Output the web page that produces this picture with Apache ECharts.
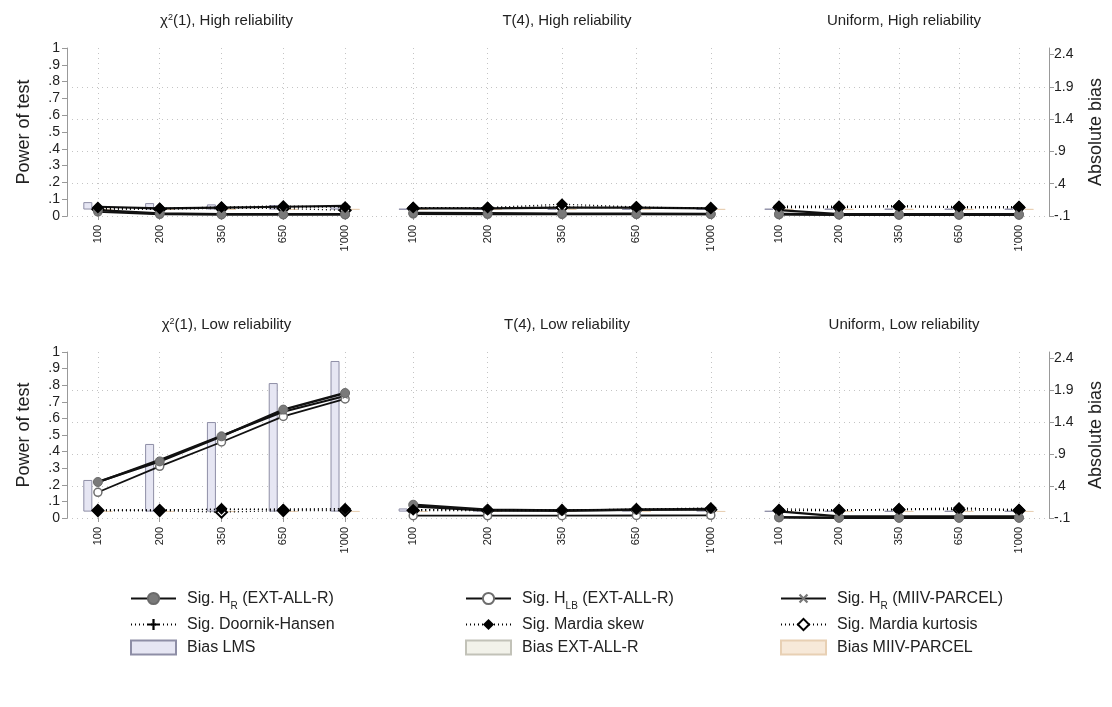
<!DOCTYPE html>
<html><head><meta charset="utf-8">
<script src="https://cdn.jsdelivr.net/npm/echarts@6/dist/echarts.min.js"></script>
<style>html,body{margin:0;padding:0;background:#fff}#c{width:1112px;height:707px}</style>
</head><body><div id="c"></div>
<script>
// ---------- data ----------
const sampleSizes = ['100', '200', '350', '650', "1'000"];
const panelTitles = [
  'χ{sup|2}(1), High reliability', 'T(4), High reliability', 'Uniform, High reliability',
  'χ{sup|2}(1), Low reliability', 'T(4), Low reliability', 'Uniform, Low reliability'
];
const powerTicks = [0, 0.1, 0.2, 0.3, 0.4, 0.5, 0.6, 0.7, 0.8, 0.9, 1];
const powerTickLabels = ['0', '.1', '.2', '.3', '.4', '.5', '.6', '.7', '.8', '.9', '1'];
const biasTicks = [-0.1, 0.4, 0.9, 1.4, 1.9, 2.4];
const biasTickLabels = ['-.1', '.4', '.9', '1.4', '1.9', '2.4'];

// panels: chi2 High, T4 High, Uniform High, chi2 Low, T4 Low, Uniform Low
const sigHR_EXT = [
  [0.035, 0.015, 0.010, 0.010, 0.010],
  [0.018, 0.016, 0.014, 0.013, 0.012],
  [0.012, 0.010, 0.010, 0.010, 0.010],
  [0.217, 0.341, 0.492, 0.653, 0.753],
  [0.080, 0.050, 0.045, 0.050, 0.055],
  [0.005, 0.002, 0.002, 0.002, 0.002]
];
const sigHLB_EXT = [
  [0.025, 0.010, 0.008, 0.008, 0.008],
  [0.012, 0.010, 0.010, 0.010, 0.010],
  [0.008, 0.006, 0.005, 0.005, 0.005],
  [0.155, 0.311, 0.458, 0.612, 0.717],
  [0.014, 0.014, 0.014, 0.015, 0.016],
  [0.002, 0.000, 0.000, 0.000, 0.000]
];
const sigHR_MIIV = [
  [0.055, 0.045, 0.050, 0.055, 0.060],
  [0.045, 0.045, 0.050, 0.050, 0.045],
  [0.035, 0.012, 0.010, 0.010, 0.010],
  [0.215, 0.350, 0.495, 0.640, 0.735],
  [0.070, 0.045, 0.045, 0.050, 0.050],
  [0.040, 0.010, 0.010, 0.010, 0.010]
];
const sigDoornikHansen = [
  [0.045, 0.045, 0.050, 0.050, 0.055],
  [0.050, 0.050, 0.055, 0.050, 0.050],
  [0.055, 0.055, 0.060, 0.050, 0.050],
  [0.050, 0.050, 0.050, 0.055, 0.055],
  [0.050, 0.050, 0.050, 0.050, 0.055],
  [0.055, 0.050, 0.050, 0.060, 0.050]
];
const sigMardiaSkew = [
  [0.050, 0.044, 0.054, 0.060, 0.054],
  [0.050, 0.050, 0.070, 0.054, 0.044],
  [0.058, 0.058, 0.060, 0.056, 0.056],
  [0.045, 0.045, 0.055, 0.050, 0.055],
  [0.050, 0.050, 0.046, 0.054, 0.060],
  [0.046, 0.046, 0.054, 0.060, 0.050]
];
const sigMardiaKurt = [
  [0.040, 0.040, 0.045, 0.045, 0.034],
  [0.045, 0.045, 0.050, 0.050, 0.045],
  [0.050, 0.050, 0.055, 0.050, 0.050],
  [0.045, 0.045, 0.035, 0.045, 0.045],
  [0.045, 0.045, 0.045, 0.050, 0.050],
  [0.045, 0.045, 0.050, 0.050, 0.045]
];
const biasLMS = [
  [0.115, 0.100, 0.080, 0.070, 0.070],
  [0.010, 0.010, 0.010, 0.010, 0.010],
  [0.010, 0.010, 0.010, 0.010, 0.010],
  [0.496, 1.060, 1.403, 2.014, 2.360],
  [0.050, 0.040, 0.040, 0.030, 0.030],
  [0.010, 0.010, 0.010, 0.010, 0.010]
];
const biasEXT = [
  [0.010, 0.010, 0.010, 0.010, 0.010],
  [0.010, 0.010, 0.010, 0.010, 0.010],
  [0.010, 0.010, 0.010, 0.010, 0.010],
  [0.010, 0.010, 0.010, 0.010, 0.010],
  [0.010, 0.010, 0.010, 0.010, 0.010],
  [0.010, 0.010, 0.010, 0.010, 0.010]
];
const biasMIIV = [
  [0.005, 0.005, 0.005, 0.005, 0.005],
  [0.005, 0.005, 0.005, 0.005, 0.005],
  [0.005, 0.005, 0.005, 0.005, 0.005],
  [0.005, 0.005, 0.005, 0.005, 0.005],
  [0.005, 0.005, 0.005, 0.005, 0.005],
  [0.005, 0.005, 0.005, 0.005, 0.005]
];

// ---------- layout ----------
const FONT = '"Liberation Sans", Arial, Helvetica, sans-serif';
const colBounds = [[67, 376], [376, 748], [749, 1049]];
const rowBounds = [[48, 216], [352, 518]];
const biasMax = -0.1 + 2.5 * 168 / 161.5;

const names = {
  hr: 'Sig. H_R (EXT-ALL-R)', hlb: 'Sig. H_LB (EXT-ALL-R)', hrm: 'Sig. H_R (MIIV-PARCEL)',
  dh: 'Sig. Doornik-Hansen', sk: 'Sig. Mardia skew', ku: 'Sig. Mardia kurtosis',
  bl: 'Bias LMS', be: 'Bias EXT-ALL-R', bm: 'Bias MIIV-PARCEL'
};
const PLUS = 'path://M4,0h2v4h4v2h-4v4h-2v-4h-4v-2h4z';
const grid = [], xAxis = [], yAxis = [], series = [], title = [];
const gridCol = '#c4c4c4';

for (let p = 0; p < 6; p++) {
  const r = Math.floor(p / 3), c = p % 3;
  const [x0, x1] = colBounds[c], [y0, y1] = rowBounds[r];
  grid.push({ left: x0, top: y0, width: x1 - x0, height: y1 - y0 });
  title.push({
    text: panelTitles[p], left: (x0 + x1) / 2, top: y0 - 40, textAlign: 'center',
    textStyle: { fontFamily: FONT, fontSize: 15, fontWeight: 'normal', color: '#222',
      rich: { sup: { fontFamily: FONT, fontSize: 9, verticalAlign: 'top', color: '#222', padding: [0, 0, 6, 0] } } }
  });
  xAxis.push({
    type: 'category', gridIndex: p, data: sampleSizes, boundaryGap: true,
    axisLine: { show: false },
    axisTick: { show: true, alignWithLabel: true, length: 4, lineStyle: { color: '#999' } },
    axisLabel: { rotate: 90, margin: 9, fontSize: 11, fontFamily: FONT, color: '#222', interval: 0 },
    splitLine: { show: true, alignWithLabel: true, interval: 0, lineStyle: { color: gridCol, type: [1, 4], width: 1 } }
  });
  // left power axis
  yAxis.push({
    type: 'value', gridIndex: p, min: 0, max: 1, interval: 0.1, position: 'left',
    show: c === 0,
    name: c === 0 ? 'Power of test' : '', nameLocation: 'middle', nameRotate: 90, nameGap: 34,
    nameTextStyle: { fontFamily: FONT, fontSize: 18, color: '#222' },
    axisLine: { show: true, lineStyle: { color: '#999' } },
    axisTick: { show: true, length: 5, lineStyle: { color: '#999' } },
    axisLabel: { fontFamily: FONT, fontSize: 14, color: '#222', margin: 7,
      formatter: v => { const i = powerTicks.findIndex(t => Math.abs(t - v) < 1e-6); return i >= 0 ? powerTickLabels[i] : ''; } },
    splitLine: { show: false }
  });
  // right bias axis
  yAxis.push({
    type: 'value', gridIndex: p, min: -0.1, max: biasMax, interval: 0.5, position: 'right',
    name: c === 2 ? 'Absolute bias' : '', nameLocation: 'middle', nameRotate: 90, nameGap: 38,
    nameTextStyle: { fontFamily: FONT, fontSize: 18, color: '#222' },
    axisLine: { show: c === 2, lineStyle: { color: '#999' } },
    axisTick: { show: c === 2, length: 5, customValues: biasTicks, lineStyle: { color: '#999' } },
    axisLabel: { show: c === 2, fontFamily: FONT, fontSize: 14, color: '#222', margin: 5, customValues: biasTicks,
      formatter: v => { const i = biasTicks.findIndex(t => Math.abs(t - v) < 1e-6); return i >= 0 ? biasTickLabels[i] : ''; } },
    splitLine: { show: true, showMaxLine: false, showMinLine: true, lineStyle: { color: gridCol, type: [1, 4], width: 1 } }
  });

  const xi = p, yl = 2 * p, yr = 2 * p + 1;
  const bar = (name, data, fill, border) => ({
    name, type: 'bar', xAxisIndex: xi, yAxisIndex: yr, data, barWidth: 9, barGap: '12%',
    itemStyle: { color: fill, borderColor: border, borderWidth: 1 }, z: 1, silent: true
  });
  series.push(bar(names.bl, biasLMS[p], '#e6e6f3', '#8e8ea6'));
  series.push(bar(names.be, biasEXT[p], '#f2f2ea', '#c2c2b8'));
  series.push(bar(names.bm, biasMIIV[p], '#f7e9d9', '#e8d0b4'));

  const line = (name, data, o) => Object.assign({
    name, type: 'line', xAxisIndex: xi, yAxisIndex: yl, data, z: 3, silent: true
  }, o);
  series.push(line(names.dh, sigDoornikHansen[p], {
    symbol: PLUS, symbolSize: 7, itemStyle: { color: '#000' },
    lineStyle: { color: '#000', width: 1.3, type: [1, 3] }
  }));
  series.push(line(names.ku, sigMardiaKurt[p], {
    symbol: 'diamond', symbolSize: 11, itemStyle: { color: '#fff', borderColor: '#000', borderWidth: 2 },
    lineStyle: { color: '#000', width: 1.3, type: [1, 3] }
  }));
  series.push(line(names.hlb, sigHLB_EXT[p], {
    symbol: 'circle', symbolSize: 8, itemStyle: { color: '#fff', borderColor: '#6e6e6e', borderWidth: 1.5 },
    lineStyle: { color: '#111', width: 1.8 }
  }));
  series.push(line(names.hrm, sigHR_MIIV[p], {
    symbol: PLUS, symbolRotate: 45, symbolSize: 7, itemStyle: { color: '#777' },
    lineStyle: { color: '#111', width: 2.2 }
  }));
  series.push(line(names.hr, sigHR_EXT[p], {
    symbol: 'circle', symbolSize: 9, itemStyle: { color: '#7a7a7a', borderColor: '#6a6a6a', borderWidth: 1 },
    lineStyle: { color: '#111', width: 2.4 }
  }));
  series.push(line(names.sk, sigMardiaSkew[p], {
    symbol: 'diamond', symbolSize: 12, itemStyle: { color: '#000' },
    lineStyle: { color: '#000', width: 1.3, type: [1, 3] }
  }));
}

const legendRich = {
  sub: { fontFamily: FONT, fontSize: 10, color: '#222', verticalAlign: 'bottom', lineHeight: 19, padding: [0, 0, -3, 0] }
};
const legendFmt = n => n.replace(/H_(R|LB)/, 'H{sub|$1}');
const mkLegend = (left, data) => ({
  orient: 'vertical', left, top: 584, itemWidth: 45, itemHeight: 14, itemGap: 4,
  data: data.map(n => (n.startsWith('Bias') ? { name: n, icon: 'rect' } : { name: n })),
  formatter: legendFmt, selectedMode: false,
  textStyle: { fontFamily: FONT, fontSize: 16, lineHeight: 19, color: '#222', padding: [0, 0, 0, 6], rich: legendRich }
});
const legend = [
  mkLegend(125, [names.hr, names.dh, names.bl]),
  mkLegend(460, [names.hlb, names.sk, names.be]),
  mkLegend(775, [names.hrm, names.ku, names.bm])
];

const chart = echarts.init(document.getElementById('c'), null, { renderer: 'canvas' });
chart.setOption({
  backgroundColor: '#fff', animation: false,
  title, grid, xAxis, yAxis, series, legend
});
</script></body></html>
